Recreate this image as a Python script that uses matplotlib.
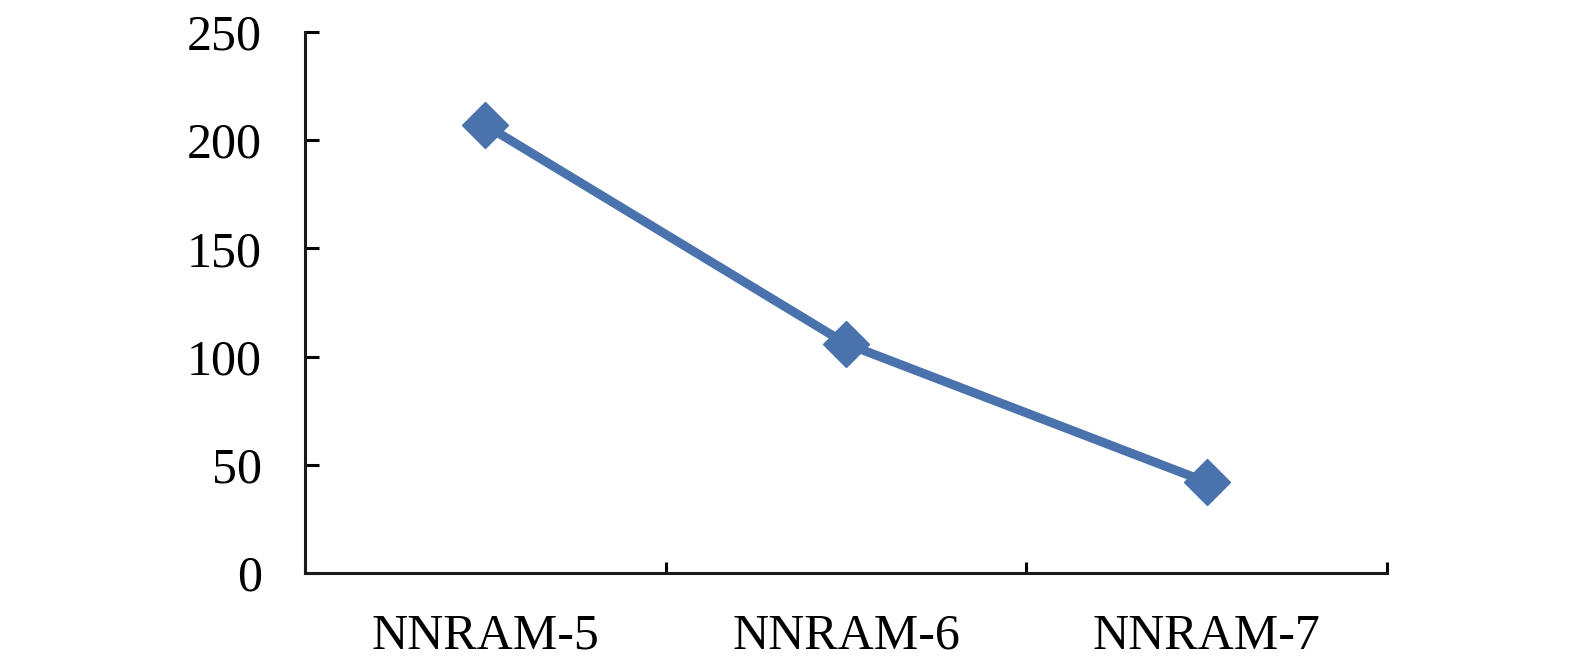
import matplotlib
matplotlib.use("Agg")
import matplotlib.pyplot as plt

# categories and values
models = ["NNRAM-5", "NNRAM-6", "NNRAM-7"]
values = [207, 106, 42]

plt.rcParams['font.family'] = ['Liberation Serif', 'DejaVu Serif']

fig = plt.figure(figsize=(15.75, 6.69), dpi=100)
ax = fig.add_axes([305 / 1575, 1 - 573 / 669, 1082 / 1575, 541 / 669])

xs = range(len(models))
ax.plot(xs, values, color='#4A72AC', lw=6.5, marker='D', markersize=23,
        markeredgecolor='#4A72AC', markeredgewidth=1)

ax.set_xlim(-0.5, len(models) - 0.5)
ax.set_ylim(0, 250)
ax.set_yticks([0, 50, 100, 150, 200, 250])

# category ticks sit between the categories
ax.set_xticks([i + 0.5 for i in range(-1, len(models))], minor=True)
ax.set_xticks(list(xs))
ax.set_xticklabels(models)
ax.tick_params(axis='x', which='major', length=0, pad=29, labelsize=36)
ax.tick_params(axis='x', which='minor', direction='in', length=8, width=2.2)
ax.tick_params(axis='y', direction='in', length=10, width=2.2, pad=31, labelsize=36)

for side in ['top', 'right']:
    ax.spines[side].set_visible(False)
for side in ['left', 'bottom']:
    ax.spines[side].set_linewidth(2.2)
    ax.spines[side].set_color('#1a1a1a')

fig.savefig("out.png", dpi=100)
